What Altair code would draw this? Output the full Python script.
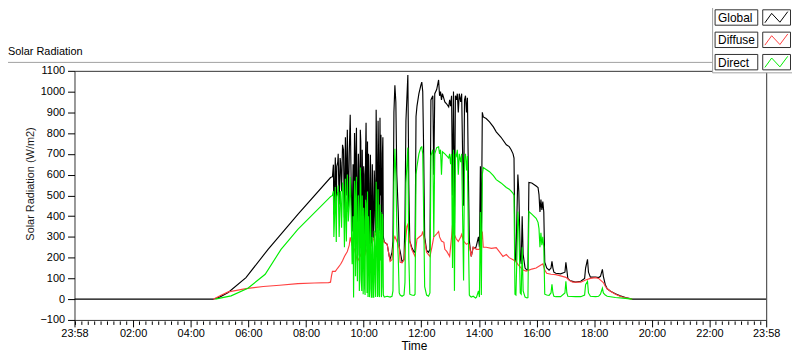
import altair as alt
import pandas as pd

# ---------------- data (minutes after midnight; -2 = 23:58 of the previous day) -------------
global_min = [-2, 287, 300, 318, 355, 401, 463, 531, 535,
              537, 538, 541, 546, 549, 552, 556, 560, 562, 566, 568, 570, 572, 574, 576, 578, 581, 583,
              585, 587, 589, 591, 593, 595, 597, 599, 601, 603, 605, 607, 610, 612, 614, 616, 618, 620,
              622, 624, 626, 628, 630, 632, 634, 636, 638, 640, 643, 645, 649, 653, 655, 659, 661, 663,
              665, 667, 669, 672, 674, 676, 680, 684, 686, 688, 692, 694, 696, 700, 705, 707, 709, 711,
              715, 719, 721, 723, 725, 727, 731, 735, 738, 740, 744, 746, 748, 752, 756, 758, 760, 762,
              764, 769, 773, 777, 779, 781, 783, 785, 787, 789, 791, 793, 795, 797, 799, 802, 804, 806,
              808, 810, 812, 814, 816, 818, 820, 822, 824, 828, 833, 835, 839, 841, 843, 845, 847, 849,
              855, 862, 870, 876, 886, 897, 903, 907, 911, 913, 915, 917, 919, 921, 923, 926, 928, 930,
              932, 936, 940, 942, 944, 950, 959, 963, 965, 967, 969, 971, 973, 975, 977, 981, 986, 990,
              992, 994, 996, 1000, 1010, 1019, 1021, 1023, 1025, 1029, 1041, 1052, 1060, 1062, 1066,
              1068, 1072, 1083, 1089, 1093, 1097, 1099, 1103, 1107, 1114, 1124, 1134, 1145, 1159, 1438]
global_wm2 = [0, 0, 10, 32, 104, 240, 408, 586, 590,
              648, 408, 682, 660, 456, 660, 744, 394, 780, 816, 420, 700, 888, 560, 326, 650, 800, 300,
              826, 240, 700, 210, 816, 300, 720, 206, 600, 220, 850, 300, 700, 255, 696, 270, 650, 300,
              620, 400, 912, 500, 860, 350, 874, 792, 420, 780, 274, 272, 264, 210, 192, 225, 280, 900,
              1030, 950, 600, 420, 250, 230, 180, 190, 380, 860, 1080, 550, 280, 250, 226, 230, 880, 930,
              990, 1030, 1046, 1000, 700, 300, 235, 226, 240, 960, 980, 600, 990, 1010, 1056, 980, 1000, 960,
              990, 950, 940, 926, 960, 930, 980, 500, 1000, 350, 980, 960, 990, 900, 990, 950, 990, 700,
              450, 960, 980, 900, 970, 600, 280, 240, 206, 250, 245, 260, 300, 250, 640, 290, 900, 878,
              870, 854, 830, 806, 780, 744, 735, 720, 700, 680, 190, 182, 400, 600, 520, 200, 170, 400,
              216, 150, 140, 140, 562, 560, 545, 538, 504, 420, 480, 430, 470, 420, 178, 150, 140, 150,
              182, 150, 130, 125, 122, 130, 178, 140, 100, 90, 82, 86, 100, 150, 192,
              130, 106, 106, 104, 110, 144, 110, 70, 50, 38, 26, 16, 8, 0, 0]
# extra one-minute readings inside the broken-cloud period
global_extra_min = [539, 543, 544, 547, 551, 554, 558, 564,
                    577, 579, 582, 584, 586, 588, 590, 592, 594, 596, 598, 600, 602, 604, 606, 608,
                    609, 611, 613, 615, 617, 619, 621, 623, 625, 627, 629, 631, 633, 635, 637, 639, 641]
global_extra_wm2 = [500, 420, 640, 700, 680, 520, 720, 500,
                    500, 250, 650, 700, 400, 560, 620, 300, 760, 240, 500, 640, 260, 700, 520, 760,
                    250, 560, 300, 560, 270, 500, 295, 560, 320, 700, 340, 700, 330, 500, 305, 700, 300]

diffuse_min = [287, 302, 318, 330, 355, 391, 425, 463, 497, 527, 531, 533, 535, 541, 546, 552, 556,
               560, 566, 570, 572, 576, 581, 587, 591, 593, 597, 601, 607, 614, 618, 622, 626, 628, 632,
               634, 638, 643, 649, 655, 659, 663, 665, 669, 674, 676, 680, 684, 688, 690, 692, 696, 700,
               707, 711, 717, 721, 723, 727, 731, 738, 742, 746, 752, 756, 758, 762, 767, 769, 773, 779,
               783, 785, 787, 791, 793, 797, 802, 804, 808, 814, 818, 820, 824, 828, 835, 841, 845, 847,
               849, 855, 866, 876, 882, 890, 897, 903, 911, 917, 921, 928, 932, 938, 944, 950, 959, 969,
               973, 977, 981, 990, 1000, 1010, 1021, 1029, 1035, 1052, 1062, 1072, 1083, 1089, 1093, 1099,
               1103, 1107, 1114, 1124, 1134, 1145, 1159]
diffuse_wm2 = [0, 18, 35, 40, 51, 61, 67, 75, 78, 80, 82, 112, 134, 134, 150, 168, 185,
               206, 230, 260, 298, 260, 240, 182, 200, 215, 195, 202, 240, 250, 270, 298, 320, 336, 325,
               320, 295, 274, 264, 182, 190, 290, 302, 280, 250, 178, 175, 190, 300, 350, 360, 278, 240,
               206, 290, 302, 310, 326, 280, 226, 206, 250, 300, 315, 326, 300, 280, 274, 240, 230, 206,
               300, 360, 320, 300, 290, 278, 300, 312, 280, 264, 270, 260, 206, 250, 240, 240, 280, 326,
               250, 250, 245, 248, 230, 206, 215, 200, 190, 182, 168, 150, 140, 135, 140, 145, 150, 165,
               170, 140, 125, 120, 118, 112, 105, 90, 82, 82, 92, 100, 104, 100, 92, 80,
               62, 50, 38, 24, 14, 6, 0]

direct_min = [291, 324, 359, 395, 428, 463, 531, 535,
              537, 538, 541, 546, 549, 552, 556, 560, 562, 566, 568, 570, 572, 574, 576, 578, 581, 583,
              585, 587, 589, 591, 593, 595, 597, 599, 601, 603, 605, 607, 610, 612, 614, 616, 618, 620,
              622, 624, 626, 628, 630, 632, 634, 636, 638, 640, 643, 649, 655, 659, 661, 663, 665, 667,
              669, 672, 674, 676, 680, 684, 686, 688, 692, 694, 696, 700, 705, 707, 709, 711, 715, 719,
              721, 723, 725, 727, 731, 735, 738, 740, 744, 746, 748, 752, 756, 758, 760, 762, 764, 769,
              773, 777, 779, 781, 783, 785, 787, 789, 791, 793, 795, 797, 799, 802, 804, 806, 808, 810,
              812, 814, 816, 818, 820, 822, 824, 828, 833, 835, 839, 841, 843, 845, 847, 849, 855, 862,
              870, 876, 886, 897, 903, 907, 911, 913, 915, 917, 919, 921, 923, 926, 928, 930, 932, 936,
              940, 942, 944, 950, 959, 963, 965, 967, 969, 971, 973, 975, 977, 981, 986, 990, 992, 994,
              996, 1000, 1010, 1019, 1021, 1023, 1025, 1041, 1052, 1060, 1062, 1066, 1068, 1072, 1083,
              1089, 1093, 1097, 1099, 1103, 1107, 1124, 1145, 1159]
direct_wm2 = [0, 16, 53, 120, 240, 336, 494, 500,
              520, 300, 540, 518, 300, 520, 562, 250, 580, 600, 374, 450, 590, 400, 168, 400, 570, 110,
              590, 86, 500, 40, 634, 120, 500, 24, 380, 20, 460, 30, 400, 10, 430, 10, 300, 10,
              330, 80, 566, 150, 530, 20, 456, 420, 60, 380, 10, 14, 10, 14, 40, 560, 725, 600,
              350, 200, 30, 20, 14, 20, 80, 560, 730, 200, 24, 20, 18, 24, 600, 640, 700, 730,
              734, 700, 400, 60, 20, 14, 30, 690, 720, 300, 700, 730, 734, 700, 720, 600, 710, 700,
              690, 680, 700, 650, 700, 150, 720, 40, 700, 690, 720, 600, 700, 660, 700, 400, 90, 680,
              700, 620, 690, 300, 20, 14, 10, 14, 6, 10, 40, 10, 420, 20, 600, 634, 625, 614,
              595, 576, 560, 538, 530, 520, 510, 500, 24, 20, 200, 422, 350, 30, 24, 250, 40, 10,
              6, 8, 422, 410, 390, 370, 340, 250, 320, 260, 300, 250, 24, 20, 18, 30, 72, 30,
              14, 12, 12, 30, 86, 30, 14, 12, 12, 20, 70, 86, 30, 14, 12,
              14, 24, 53, 30, 20, 14, 8, 4, 0]
direct_extra_min = global_extra_min
direct_extra_wm2 = [366, 275, 493, 547, 515, 344, 525, 278,
                    245, 8, 422, 495, 210, 374, 425, 92, 550, 40, 303, 440, 52, 479, 286, 519,
                    10, 314, 51, 305, 10, 223, 10, 257, 10, 372, 10, 372, 10, 186, 10, 410, 20]

series_names = ["Global", "Diffuse", "Direct"]
series_colors = ["#000000", "#ff4040", "#00ee00"]

y_tick_values = list(range(-100, 1101, 100))
x_tick_minutes = [-2, 120, 240, 360, 480, 600, 720, 840, 960, 1080, 1200, 1320, 1438]
x_minor_minutes = [k * 120 / 9 for k in range(0, 108) if k % 9 != 0 or k == 0]

# ---------------- layout ----------------
W, H = 697, 251
FONT = "Liberation Sans"

xs = alt.Scale(domain=[-2, 1438], nice=False, zero=False)
ys = alt.Scale(domain=[-100, 1100], nice=False, zero=False)

x_axis = alt.Axis(values=x_tick_minutes,
                  labelExpr="utcFormat(datum.value * 60000, '%H:%M')",
                  title="Time", titleX=342, titleY=30, titleAlign="center",
                  titleBaseline="alphabetic", titleFont=FONT, titleFontSize=12,
                  titleFontWeight="normal", titleColor="#000000",
                  tickSize=7, tickColor="#000000", labelPadding=1, domain=False, grid=False,
                  labelFont=FONT, labelFontSize=11, labelColor="#000000",
                  labelFlush=False, labelOverlap=False)
y_axis = alt.Axis(values=y_tick_values, format="d", title="Solar Radiation (W/m2)",
                  titleX=-41, titleY=113.5, titleAngle=270, titleAlign="center",
                  titleBaseline="alphabetic", titleFont=FONT, titleFontSize=11,
                  titleFontWeight="normal", titleColor="#1a1a1a",
                  tickSize=7, tickColor="#000000", labelPadding=3, domain=False, grid=False,
                  labelFont=FONT, labelFontSize=11, labelColor="#000000", labelOverlap=False)

X_ENC = dict(field="minute", type="quantitative", scale=xs, axis=x_axis, title="Time")


def series_layer(mins, vals, color):
    df = pd.DataFrame({"minute": mins, "wm2": vals}).sort_values("minute")
    return alt.Chart(df).mark_line(color=color, strokeWidth=1.15, clip=True,
                                   interpolate="linear").encode(
        x=alt.X(**X_ENC),
        y=alt.Y("wm2:Q", scale=ys, axis=y_axis, title="Solar Radiation (W/m2)"),
        order=alt.Order("minute:Q"),
    )


one = pd.DataFrame({"k": [0]})

minor_ticks = alt.Chart(pd.DataFrame({"minute": x_minor_minutes})).mark_rule(
    color="#000000", strokeWidth=1).encode(
    x=alt.X(**X_ENC),
    y=alt.value(H + 1.5), y2=alt.value(H + 5))

title_txt = alt.Chart(one).mark_text(text="Solar Radiation", align="left",
                                     baseline="alphabetic", font=FONT, fontSize=11,
                                     color="#000000").encode(
    x=alt.value(-67), y=alt.value(-15.5))

frame_top = alt.Chart(one).mark_rule(color="#a0a0a0", strokeWidth=1).encode(
    x=alt.value(-67), x2=alt.value(643), y=alt.value(-8.5))

legend_panel = alt.Chart(one).mark_rect(fill="#ffffff", stroke="#a0a0a0",
                                        strokeWidth=1).encode(
    x=alt.value(643), x2=alt.value(740), y=alt.value(-80), y2=alt.value(2))

legend_layers = [legend_panel]
row_tops = [-61.5, -39, -16.5]
ROW_H = 15.5
zig = "M-1,0.45L-0.42,-0.35L0.28,0.4L0.95,-0.5"
for name, col, top in zip(series_names, series_colors, row_tops):
    legend_layers.append(alt.Chart(one).mark_rect(fill="#ffffff", stroke="#303030",
                                                  strokeWidth=1).encode(
        x=alt.value(645.5), x2=alt.value(688.5), y=alt.value(top), y2=alt.value(top + ROW_H)))
    legend_layers.append(alt.Chart(one).mark_rect(fill="#ffffff", stroke="#303030",
                                                  strokeWidth=1).encode(
        x=alt.value(693.5), x2=alt.value(721.5), y=alt.value(top), y2=alt.value(top + ROW_H)))
    legend_layers.append(alt.Chart(one).mark_text(text=name, align="left", baseline="middle",
                                                  font=FONT, fontSize=12,
                                                  color="#000000").encode(
        x=alt.value(648.5), y=alt.value(top + ROW_H / 2 + 0.5)))
    legend_layers.append(alt.Chart(one).mark_point(shape=zig, filled=False, size=560,
                                                   stroke=col, strokeWidth=1,
                                                   opacity=1).encode(
        x=alt.value(707.5), y=alt.value(top + ROW_H / 2)))

chart = alt.layer(
    series_layer(global_min + global_extra_min, global_wm2 + global_extra_wm2, series_colors[0]),
    series_layer(diffuse_min, diffuse_wm2, series_colors[1]),
    series_layer(direct_min + direct_extra_min, direct_wm2 + direct_extra_wm2, series_colors[2]),
    minor_ticks, title_txt, frame_top, *legend_layers,
).properties(
    width=W, height=H,
    autosize=alt.AutoSizeParams(type="none"),
    padding={"left": 67, "top": 62, "right": 26, "bottom": 32},
    background="#ffffff",
).configure_view(stroke="#333333", strokeWidth=1)

chart.save("out.html", embed_options={"renderer": "svg", "actions": False})
